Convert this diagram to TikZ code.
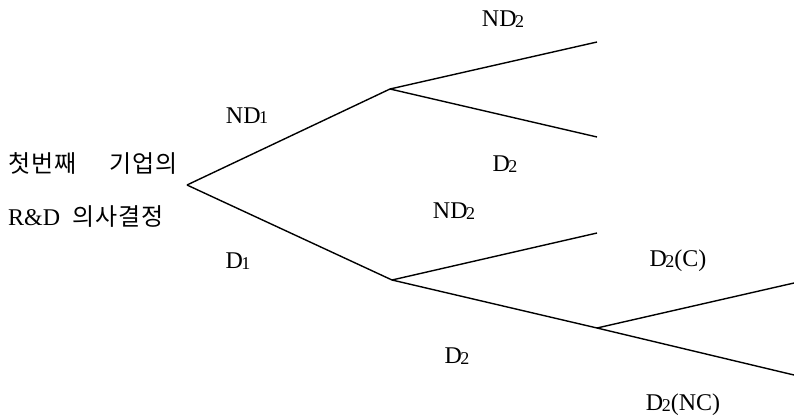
\documentclass[tikz,border=0pt]{standalone}
\usepackage{fontspec}
\setmainfont{Liberation Serif}
\newfontfamily\kr{Noto Sans CJK KR}[LetterSpace=4]
\newcommand{\subtwo}{\kern-1.5pt\raisebox{-1pt}{\fontsize{18}{18}\selectfont 2}}
\newcommand{\subone}{\kern-1.5pt\raisebox{-1pt}{\fontsize{18}{18}\selectfont 1}}
\begin{document}
\begin{tikzpicture}[x=1pt,y=-1pt,
  lbl/.style={anchor=base,inner sep=0pt,font=\fontsize{24}{27}\selectfont},
  krlbl/.style={anchor=base west,inner sep=0pt,font=\fontsize{24}{27}\selectfont},
  branch/.style={line width=1.4pt,line join=round}]
\useasboundingbox (0,0) rectangle (794,417);
% tree points
\coordinate (root) at (187,185);
\coordinate (u) at (390,89);
\coordinate (ua) at (597,42);
\coordinate (ub) at (597,137);
\coordinate (l) at (392,280);
\coordinate (la) at (597,233);
\coordinate (lb) at (597,328);
\coordinate (lba) at (794,283);
\coordinate (lbb) at (794,375);
% branches
\draw[branch] (root) -- (u);
\draw[branch] (root) -- (l);
\draw[branch] (u) -- (ua);
\draw[branch] (u) -- (ub);
\draw[branch] (l) -- (la);
\draw[branch] (l) -- (lb);
\draw[branch] (lb) -- (lba);
\draw[branch] (lb) -- (lbb);
% labels
\node[krlbl] (t1) at (8,172) {{\kr 첫번째}\hspace{33pt}{\kr 기업의}};
\node[krlbl] (t2) at (8,225) {R\&D\hspace{12pt}{\kr 의사결정}};
\node[lbl] (nd2a) at (503,27) {ND\subtwo};
\node[lbl] (nd1) at (247,123) {ND\subone};
\node[lbl] (d2a) at (505,171) {D\subtwo};
\node[lbl] (nd2b) at (454,218) {ND\subtwo};
\node[lbl] (d1) at (238,268) {D\subone};
\node[lbl] (d2c) at (678,266) {D\subtwo(C)};
\node[lbl] (d2b) at (457,363) {D\subtwo};
\node[lbl] (d2nc) at (683,410) {D\subtwo(NC)};
\end{tikzpicture}
\end{document}
